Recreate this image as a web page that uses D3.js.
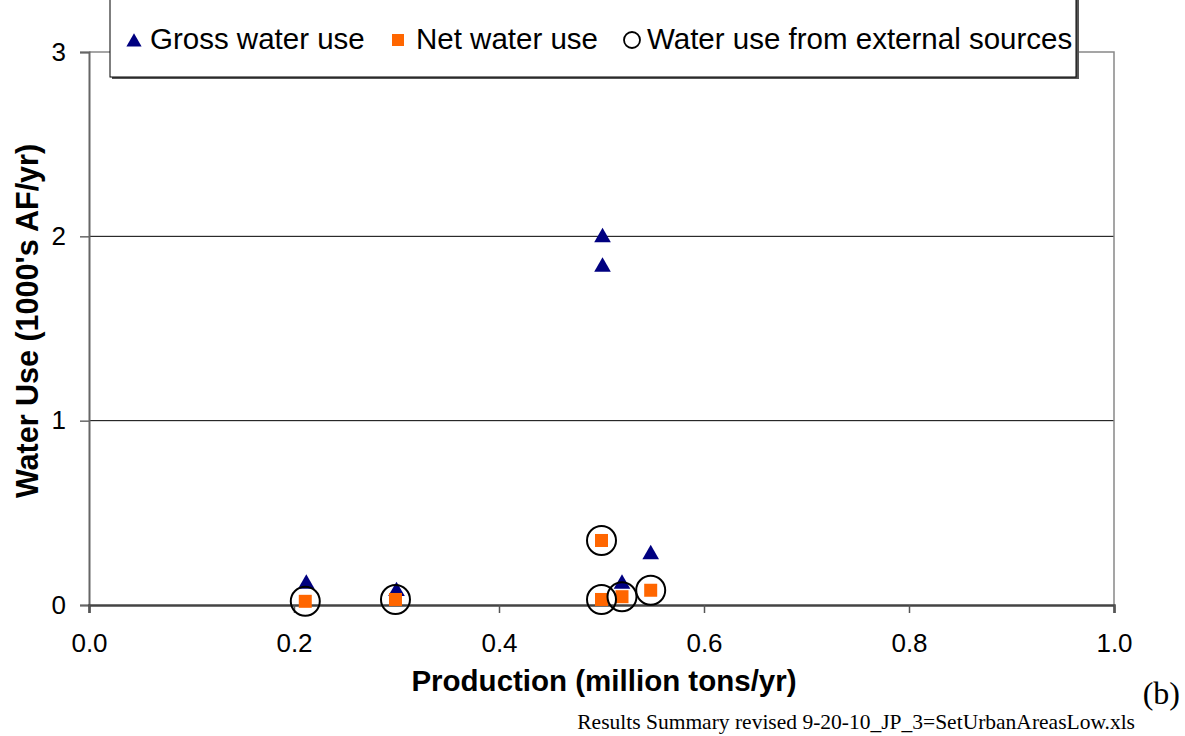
<!DOCTYPE html>
<html><head><meta charset="utf-8">
<script src="https://cdn.jsdelivr.net/npm/d3@7"></script>
<style>body{margin:0;background:#fff}svg{display:block}</style>
</head><body><svg id="c" width="1185" height="736"></svg>
<script>
const xTicks = [0.0, 0.2, 0.4, 0.6, 0.8, 1.0];
const yTicks = [0, 1, 2, 3];
const grossX = [0.212, 0.30, 0.501, 0.501, 0.520, 0.548];
const grossY = [0.12, 0.08, 2.00, 1.84, 0.12, 0.28];
const netX = [0.211, 0.299, 0.500, 0.500, 0.520, 0.548];
const netY = [0.02, 0.03, 0.35, 0.03, 0.045, 0.08];
const extX = [0.211, 0.299, 0.500, 0.500, 0.520, 0.548];
const extY = [0.02, 0.03, 0.35, 0.03, 0.045, 0.08];
const seriesNames = ["Gross water use", "Net water use", "Water use from external sources"];

const svg = d3.select("#c");
const font = "'Liberation Sans', Arial, sans-serif";
const x = d3.scaleLinear().domain([0, 1]).range([89, 1114]);
const y = d3.scaleLinear().domain([0, 3]).range([605, 52]);

// gridlines
svg.append("g").selectAll("line").data([1, 2]).join("line")
  .attr("x1", x(0)).attr("x2", x(1)).attr("y1", d => y(d)).attr("y2", d => y(d))
  .attr("stroke", "#000").attr("stroke-width", 1);
// frame top/right
svg.append("path").attr("d", `M${x(0)},${y(3)}H${x(1)}V${y(0)}`)
  .attr("fill", "none").attr("stroke", "#888").attr("stroke-width", 1.5);

// y axis
const ya = svg.append("g").attr("transform", `translate(${x(0)},0)`)
  .call(d3.axisLeft(y).tickValues(yTicks).tickFormat(d3.format("d")).tickSize(9).tickPadding(14));
ya.select(".domain").attr("stroke", "#666").attr("stroke-width", 2);
ya.selectAll(".tick line").attr("stroke", "#666").attr("stroke-width", 1.5);
ya.selectAll("text").attr("font-family", font).attr("font-size", 26).attr("fill", "#000");

// x axis
const xa = svg.append("g").attr("transform", `translate(0,${y(0)})`)
  .call(d3.axisBottom(x).tickValues(xTicks).tickFormat(d3.format(".1f")).tickSize(8).tickPadding(21));
xa.select(".domain").attr("stroke", "#444").attr("stroke-width", 2.5);
xa.selectAll(".tick line").attr("stroke", "#555").attr("stroke-width", 1.5);
xa.selectAll("text").attr("font-family", font).attr("font-size", 26).attr("fill", "#000");

// markers
const tri = d3.symbol().type(d3.symbolTriangle).size(120);
svg.append("g").selectAll("path").data(grossX.map((v, i) => [v, grossY[i]])).join("path")
  .attr("d", tri).attr("transform", d => `translate(${x(d[0])},${y(d[1]) + 1})`).attr("fill", "#000080");
svg.append("g").selectAll("rect").data(netX.map((v, i) => [v, netY[i]])).join("rect")
  .attr("x", d => x(d[0]) - 6.5).attr("y", d => y(d[1]) - 6.5).attr("width", 13).attr("height", 13)
  .attr("fill", "#ff6600");
svg.append("g").selectAll("circle").data(extX.map((v, i) => [v, extY[i]])).join("circle")
  .attr("cx", d => x(d[0])).attr("cy", d => y(d[1])).attr("r", 14.5)
  .attr("fill", "none").attr("stroke", "#000").attr("stroke-width", 2);

// legend
const lg = svg.append("g");
lg.append("rect").attr("x", 112).attr("y", -5).attr("width", 967).attr("height", 84).attr("fill", "#555");
lg.append("rect").attr("x", 110).attr("y", -5).attr("width", 966).attr("height", 82)
  .attr("fill", "#fff").attr("stroke", "#000").attr("stroke-width", 1);
const ly = 39;
lg.append("path").attr("d", d3.symbol().type(d3.symbolTriangle).size(100))
  .attr("transform", `translate(134,${ly + 3})`).attr("fill", "#000080");
lg.append("rect").attr("x", 392).attr("y", ly - 5).attr("width", 12).attr("height", 12).attr("fill", "#ff6600");
lg.append("circle").attr("cx", 632).attr("cy", ly + 1).attr("r", 8).attr("fill", "none").attr("stroke", "#000").attr("stroke-width", 1.8);
const lx = [150, 416, 647];
lg.selectAll("text").data(seriesNames).join("text")
  .attr("x", (d, i) => lx[i]).attr("y", ly + 10).text(d => d)
  .attr("font-family", font).attr("font-size", 29.5).attr("fill", "#000");

// titles
svg.append("text").attr("x", 604).attr("y", 691).attr("text-anchor", "middle")
  .attr("font-family", font).attr("font-size", 29.5).attr("font-weight", "bold").text("Production (million tons/yr)");
svg.append("text").attr("transform", "translate(38,321) rotate(-90)").attr("text-anchor", "middle")
  .attr("font-family", font).attr("font-size", 30.5).attr("font-weight", "bold").text("Water Use (1000's AF/yr)");
svg.append("text").attr("x", 1180).attr("y", 704).attr("text-anchor", "end")
  .attr("font-family", "'Liberation Serif', 'Times New Roman', serif").attr("font-size", 32).text("(b)");
svg.append("text").attr("x", 1135).attr("y", 729).attr("text-anchor", "end")
  .attr("font-family", "'Liberation Serif', 'Times New Roman', serif").attr("font-size", 21.5)
  .text("Results Summary revised 9-20-10_JP_3=SetUrbanAreasLow.xls");
</script></body></html>
